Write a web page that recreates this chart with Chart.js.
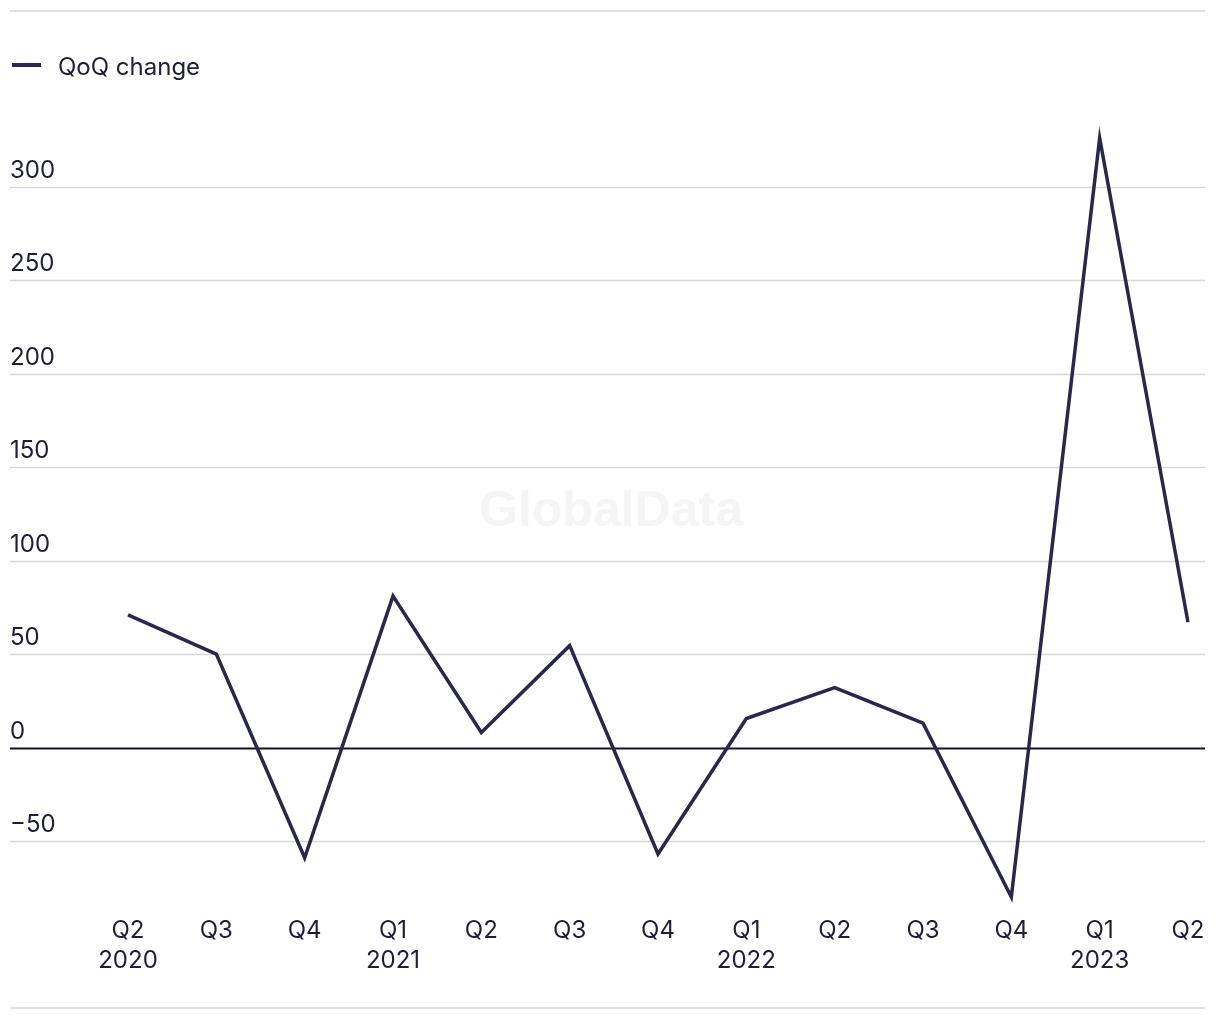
<!DOCTYPE html>
<html>
<head>
<meta charset="utf-8">
<script src="https://cdn.jsdelivr.net/npm/chart.js@4.4.1/dist/chart.umd.min.js"></script>
<style>
  body { margin: 0; background: #fff; }
  canvas { display: block; }
</style>
</head>
<body>
<canvas id="chart" width="1220" height="1020"></canvas>
<script>
const quarters = [
  ["Q2", "2020"], "Q3", "Q4",
  ["Q1", "2021"], "Q2", "Q3", "Q4",
  ["Q1", "2022"], "Q2", "Q3", "Q4",
  ["Q1", "2023"], "Q2"
];
const qoqChange = [71, 50, -59, 81, 8, 54.5, -57, 15.5, 32, 13, -80, 326, 67];
const yTicks = [-50, 0, 50, 100, 150, 200, 250, 300];

const ink = "#1e1e36";
const lineColor = "#29284b";
const fontFamily = "Inter, 'Noto Sans', sans-serif";

// gridlines across the full width, frame rules, legend and watermark
const decor = {
  id: "decor",
  beforeDatasetsDraw(chart) {
    const ctx = chart.ctx;
    const y = chart.scales.y;
    ctx.save();
    // watermark
    ctx.fillStyle = "#f5f5f5";
    ctx.font = "bold 50px 'Liberation Sans', Arial, sans-serif";
    ctx.textAlign = "center";
    ctx.textBaseline = "middle";
    ctx.fillText("GlobalData", 611, 512);

    ctx.lineWidth = 1.5;
    ctx.strokeStyle = "#d8d8d8";
    [11, 1008].forEach(py => {
      ctx.beginPath();
      ctx.moveTo(10, py);
      ctx.lineTo(1205, py);
      ctx.stroke();
    });
    yTicks.forEach(v => {
      const py = Math.round(y.getPixelForValue(v)) + 0.5;
      ctx.strokeStyle = v === 0 ? "#12122a" : "#d8d8d8";
      ctx.lineWidth = v === 0 ? 2 : 1.5;
      ctx.beginPath();
      ctx.moveTo(10, py);
      ctx.lineTo(1205, py);
      ctx.stroke();
    });

    // legend
    ctx.strokeStyle = lineColor;
    ctx.lineWidth = 4;
    ctx.beginPath();
    ctx.moveTo(12, 65);
    ctx.lineTo(41, 65);
    ctx.stroke();
    ctx.fillStyle = ink;
    ctx.font = "24px " + fontFamily;
    ctx.textAlign = "left";
    ctx.textBaseline = "middle";
    ctx.fillText(chart.data.datasets[0].label, 58, 68);
    ctx.restore();
  }
};

new Chart(document.getElementById("chart"), {
  type: "line",
  data: {
    labels: quarters,
    datasets: [{
      label: "QoQ change",
      data: qoqChange,
      borderColor: lineColor,
      borderWidth: 3.5,
      borderCapStyle: "butt",
      borderJoinStyle: "miter",
      pointRadius: 0,
      tension: 0,
      fill: false
    }]
  },
  options: {
    responsive: false,
    devicePixelRatio: 1,
    animation: false,
    layout: { padding: { left: 10, right: 32, top: 112, bottom: 40 } },
    plugins: {
      legend: { display: false },
      tooltip: { enabled: false }
    },
    scales: {
      x: {
        offset: false,
        grid: { display: false, drawTicks: false },
        border: { display: false },
        ticks: {
          autoSkip: false,
          maxRotation: 0,
          padding: 4,
          color: ink,
          font: { family: fontFamily, size: 24, lineHeight: 1.25 }
        }
      },
      y: {
        min: -88,
        max: 340,
        afterFit(scale) { scale.width = 118; },
        afterBuildTicks(scale) { scale.ticks = yTicks.map(v => ({ value: v })); },
        grid: { display: false, drawTicks: false },
        border: { display: false },
        ticks: {
          crossAlign: "far",
          padding: 0,
          labelOffset: -16,
          color: ink,
          font: { family: fontFamily, size: 24 },
          callback: v => String(v).replace("-", "\u2212")
        }
      }
    }
  },
  plugins: [decor]
});
</script>
</body>
</html>
